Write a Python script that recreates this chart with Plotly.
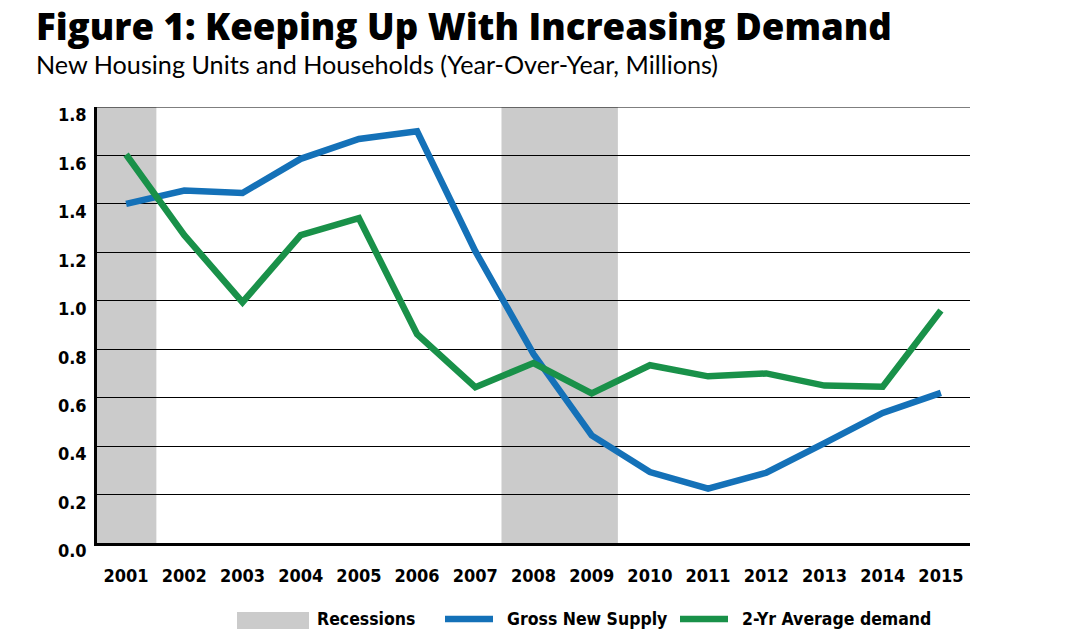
import plotly.graph_objects as go

# data (millions, year-over-year)
years = list(range(2001, 2016))
gross_new_supply = [1.40, 1.455, 1.445, 1.586, 1.668, 1.70, 1.205, 0.78, 0.444,
                    0.293, 0.224, 0.29, 0.412, 0.537, 0.62]
avg_demand = [1.604, 1.271, 0.994, 1.271, 1.341, 0.862, 0.643, 0.743, 0.618,
              0.734, 0.688, 0.70, 0.65, 0.645, 0.96]
recessions = [(2000.5, 2001.52), (2007.45, 2009.45)]
y_ticks = [0.0, 0.2, 0.4, 0.6, 0.8, 1.0, 1.2, 1.4, 1.6, 1.8]

BLUE = "#1471b8"
GREEN = "#199149"
GRAY = "#cbcbcb"
NARROW = "Liberation Sans Narrow, DejaVu Sans Condensed, sans-serif"

# plot area in pixels, used to place the title and hand-made legend
L, R, T, B = 97, 970, 107, 543


def px(x):
    return (x - L) / (R - L)


def py(y):
    return (B - y) / (B - T)


fig = go.Figure()

fig.add_trace(go.Scatter(x=years, y=gross_new_supply, mode="lines", name="Gross New Supply",
                         line=dict(color=BLUE, width=6.5), showlegend=False))
fig.add_trace(go.Scatter(x=years, y=avg_demand, mode="lines", name="2-Yr Average demand",
                         line=dict(color=GREEN, width=6.5), showlegend=False))

shapes = []
for x0, x1 in recessions:
    shapes.append(dict(type="rect", xref="x", yref="paper", x0=x0, x1=x1, y0=0, y1=1,
                       fillcolor=GRAY, line_width=0, layer="below"))
# top gridline sits on the edge of the range, plotly skips it
shapes.append(dict(type="line", xref="paper", yref="y", x0=0, x1=1, y0=y_ticks[-1], y1=y_ticks[-1],
                   line=dict(color="black", width=1.2), layer="below"))

# legend drawn by hand
shapes.append(dict(type="rect", xref="paper", yref="paper", x0=px(237), x1=px(309),
                   y0=py(629), y1=py(612), fillcolor=GRAY, line_width=0))
shapes.append(dict(type="line", xref="paper", yref="paper", x0=px(445), x1=px(493),
                   y0=py(619), y1=py(619), line=dict(color=BLUE, width=6.5)))
shapes.append(dict(type="line", xref="paper", yref="paper", x0=px(680), x1=px(728),
                   y0=py(619), y1=py(619), line=dict(color=GREEN, width=6.5)))

annotations = [
    dict(text="Figure 1: Keeping Up With Increasing Demand", xref="paper", yref="paper",
         x=px(34), y=py(-1), xanchor="left", yanchor="top", showarrow=False,
         font=dict(family="Open Sans, Lato, sans-serif", size=36.6, color="black", weight=800)),
    dict(text="New Housing Units and Households (Year-Over-Year, Millions)", xref="paper", yref="paper",
         x=px(34), y=py(47), xanchor="left", yanchor="top", showarrow=False,
         font=dict(family="Lato, Open Sans, sans-serif", size=25.2, color="black")),
]
for label, xpos in [("Recessions", 315), ("Gross New Supply", 505), ("2-Yr Average demand", 740)]:
    annotations.append(dict(text="<b>" + label + "</b>", xref="paper", yref="paper",
                            x=px(xpos), y=py(619), xanchor="left", yanchor="middle",
                            showarrow=False, font=dict(family=NARROW, size=17.5, color="black")))

fig.update_layout(
    width=1080, height=644,
    margin=dict(l=L, r=1080 - R, t=T, b=644 - B),
    paper_bgcolor="white", plot_bgcolor="white",
    showlegend=False,
    shapes=shapes,
    annotations=annotations,
    xaxis=dict(
        range=[2000.5, 2015.5], tickvals=years, ticktext=[str(y) for y in years],
        showgrid=False, zeroline=False,
        showline=True, linecolor="black", linewidth=3,
        ticks="", ticklabelstandoff=14,
        tickfont=dict(family=NARROW, size=18, color="black", weight="bold"),
    ),
    yaxis=dict(
        range=[0, 1.8], tickvals=y_ticks, ticktext=["%.1f" % v for v in y_ticks],
        showgrid=True, gridcolor="black", gridwidth=1, zeroline=False,
        showline=True, linecolor="black", linewidth=2.5,
        ticks="", ticklabelshift=8, ticklabelstandoff=4,
        tickfont=dict(family=NARROW, size=18, color="black", weight="bold"),
    ),
)

# page body has an 8px default margin; drop it so the figure sits at the window corner
fig.write_html("out.html", config={"displayModeBar": False},
               post_script="document.body.style.margin='0';")
